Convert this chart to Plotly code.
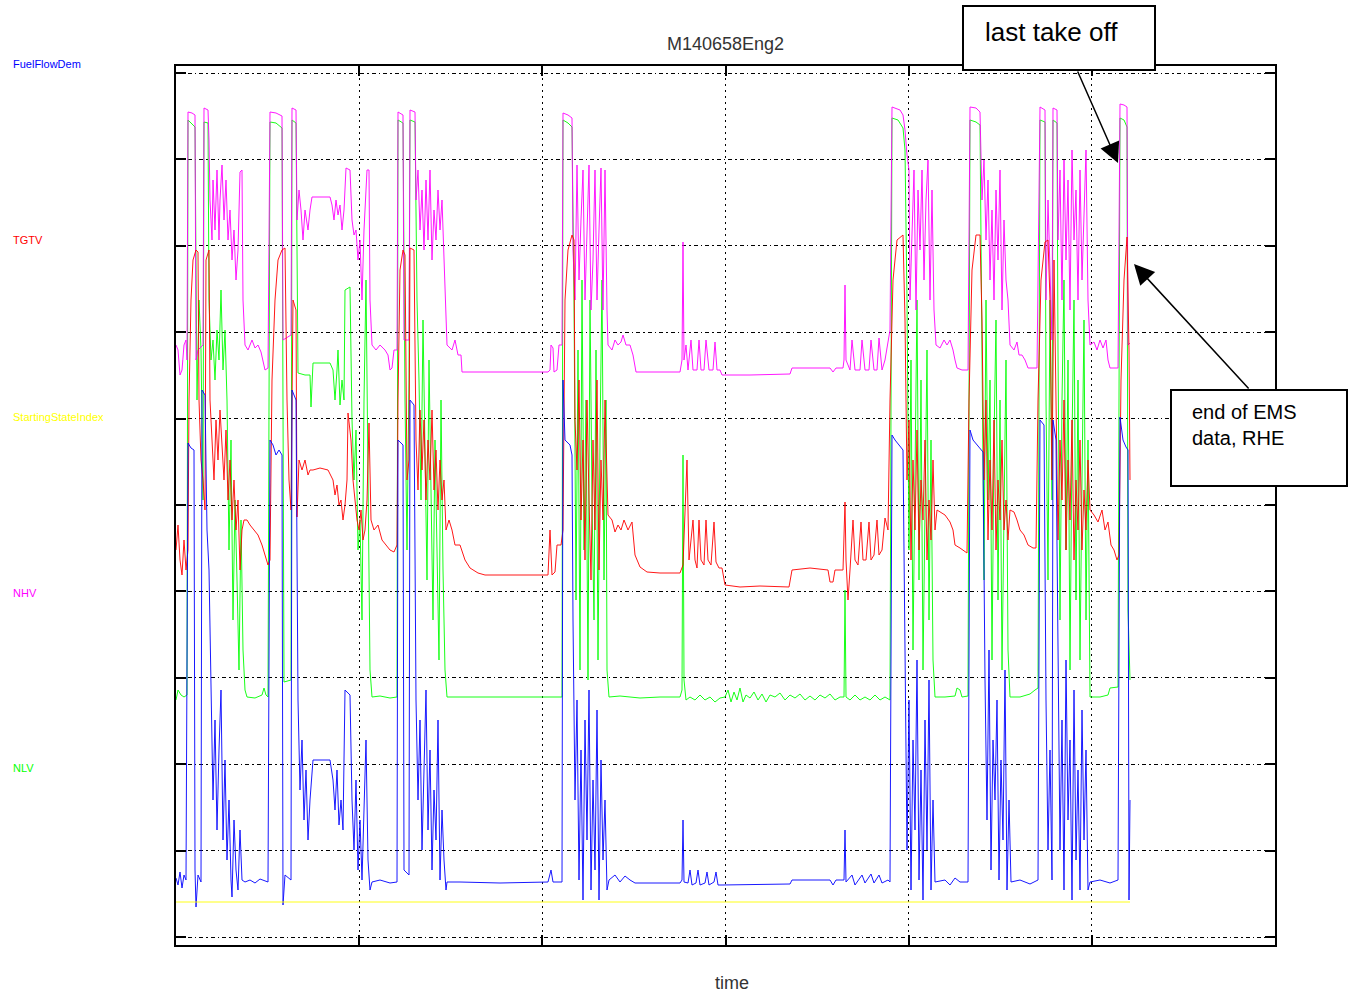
import plotly.graph_objects as go

# ---- data (time units, signal value units) ----
nhv = [(176,655),(178,650),(180,625),(182,630),(184,655),(186,660),(187,640),(188,888),(192,887),(195,885),
(196,640),(198,650),(203,655),(204,892),(208,890),(209,860),(210,800),(212,760),(213,820),(215,770),(217,830),
(219,760),(220,800),(222,835),(224,780),(226,820),(228,760),(230,790),(232,740),(234,770),(236,720),(238,750),
(240,828),(242,830),(243,700),(245,655),(248,650),(252,660),(255,652),(258,655),(261,648),(263,640),(265,630),
(268,632),(270,888),(276,887),(282,884),(283,660),(291,665),(292,892),(296,890),(297,780),(299,810),(301,790),
(303,760),(305,790),(308,770),(310,790),(312,803),(330,803),(332,795),(334,780),(336,800),(338,785),(340,795),
(342,770),(344,790),(346,832),(350,830),(352,780),(354,765),(356,770),(358,740),(360,760),(362,700),(364,770),
(367,830),(369,830),(370,700),(372,655),(376,650),(380,655),(385,650),(388,645),(390,630),(392,632),(394,650),
(397,650),(398,888),(403,885),(404,660),(409,660),(410,890),(415,888),(416,800),(418,830),(420,770),(422,810),
(424,750),(426,820),(428,760),(430,830),(432,740),(434,790),(436,760),(438,810),(440,770),(442,800),(444,740),
(446,700),(447,655),(452,650),(455,660),(458,645),(461,645),(462,628),(548,628),(550,630),(551,655),(553,652),
(554,628),(557,630),(559,655),(562,655),(563,887),(568,885),(572,882),(573,750),(575,700),(577,835),(579,720),
(581,780),(583,830),(585,700),(587,760),(589,835),(591,690),(593,740),(595,830),(597,700),(599,770),(601,832),
(603,690),(605,830),(607,690),(608,655),(612,650),(615,660),(618,655),(621,658),(623,665),(626,655),(630,655),
(633,645),(636,628),(680,628),(682,640),(683,758),(684,640),(686,655),(688,630),(691,660),(693,630),(697,630),
(699,660),(701,630),(704,630),(706,660),(709,630),(713,630),(715,658),(717,630),(720,630),(722,625),(750,625),
(790,626),(792,632),(830,632),(833,628),(836,632),(843,632),(844,640),(845,715),(846,640),(850,630),(852,660),
(855,630),(860,630),(862,660),(865,630),(869,630),(871,660),(874,630),(877,630),(879,662),(882,630),(885,640),
(888,660),(890,670),(892,893),(900,890),(903,885),(905,870),(907,845),(909,830),(910,700),(912,780),(914,830),
(916,690),(918,810),(920,750),(922,830),(924,720),(926,800),(928,840),(930,700),(932,810),(934,690),(936,655),
(940,652),(944,660),(947,655),(950,660),(953,650),(955,640),(957,632),(962,630),(968,630),(970,893),(976,892),
(980,888),(982,800),(984,840),(986,760),(988,820),(990,720),(992,790),(994,700),(996,810),(998,740),(1000,830),
(1002,690),(1004,780),(1006,720),(1008,700),(1010,655),(1014,650),(1017,658),(1019,645),(1022,645),(1025,640),
(1028,632),(1037,632),(1040,893),(1045,890),(1046,700),(1048,800),(1050,720),(1052,660),(1053,892),(1057,890),
(1058,760),(1060,830),(1062,700),(1064,840),(1066,740),(1068,820),(1070,690),(1072,850),(1074,760),(1076,810),
(1078,700),(1080,830),(1082,720),(1084,790),(1086,850),(1088,700),(1090,655),(1094,658),(1097,650),(1100,660),
(1103,652),(1106,660),(1108,640),(1110,632),(1118,632),(1120,896),(1124,895),(1127,893),(1128,655),(1130,657)]

tgtv = [(176,450),(178,475),(180,440),(182,425),(184,460),(186,430),(188,450),(189,600),(191,700),(193,740),
(196,750),(198,748),(199,600),(201,540),(203,520),(205,490),(206,740),(209,750),(210,600),(212,560),(214,520),
(216,580),(218,540),(220,590),(222,560),(224,520),(226,570),(228,500),(230,540),(232,480),(234,520),(236,470),
(238,500),(240,430),(242,470),(244,480),(247,480),(250,475),(254,470),(258,465),(262,455),(265,445),(268,435),
(270,440),(272,620),(275,700),(278,740),(282,750),(285,752),(287,600),(289,520),(291,490),(293,700),(296,690),
(297,483),(299,540),(302,530),(305,540),(308,525),(310,530),(313,530),(320,532),(328,530),(333,520),(335,505),
(337,515),(339,495),(341,500),(343,480),(345,495),(347,520),(348,587),(351,560),(353,520),(355,500),(357,480),
(359,470),(361,490),(363,460),(365,470),(367,500),(369,577),(371,480),(374,470),(378,475),(382,460),(386,455),
(390,450),(394,448),(397,455),(398,600),(400,730),(403,750),(405,745),(407,520),(409,540),(410,752),(414,750),
(416,560),(418,510),(420,590),(422,530),(424,580),(426,500),(428,560),(430,520),(432,590),(434,510),(436,550),
(438,490),(440,540),(442,500),(444,520),(446,470),(449,480),(452,470),(455,455),(460,455),(465,440),(470,432),
(478,427),(485,425),(548,425),(550,470),(552,425),(555,428),(557,455),(561,455),(563,470),(565,700),(568,750),
(572,765),(574,760),(575,580),(577,530),(579,620),(581,480),(583,560),(585,440),(587,600),(589,500),(591,420),
(593,560),(595,470),(597,620),(599,430),(601,540),(603,480),(605,600),(607,500),(608,485),(612,480),(615,468),
(618,475),(621,470),(624,480),(628,470),(632,478),(635,445),(640,433),(647,428),(660,427),(680,427),(683,435),
(685,480),(687,540),(689,440),(691,460),(693,480),(695,440),(697,432),(699,480),(701,440),(704,435),(706,480),
(708,440),(711,435),(714,478),(716,438),(719,432),(722,432),(725,415),(740,413),(760,414),(789,413),(792,430),
(810,432),(828,430),(830,418),(833,418),(835,430),(843,430),(845,498),(846,440),(848,400),(850,430),(853,480),
(855,440),(858,435),(861,478),(863,440),(866,440),(869,478),(871,440),(874,445),(877,480),(879,445),(882,450),
(885,482),(888,470),(890,600),(893,720),(897,760),(903,765),(905,680),(907,520),(909,580),(911,440),(913,540),
(915,470),(917,570),(919,450),(921,520),(923,480),(925,560),(927,440),(929,500),(931,460),(933,540),(935,470),
(937,490),(945,485),(950,478),(953,470),(955,455),(960,452),(963,450),(967,447),(969,600),(972,730),(976,765),
(980,765),(982,680),(984,520),(986,600),(988,460),(990,540),(992,470),(994,580),(996,450),(998,520),(1000,480),
(1002,560),(1004,470),(1006,500),(1008,460),(1010,490),(1014,488),(1017,480),(1020,470),(1024,465),(1028,455),
(1033,452),(1036,452),(1038,600),(1041,720),(1045,758),(1048,760),(1050,700),(1052,520),(1054,740),(1056,600),
(1058,460),(1060,560),(1062,500),(1064,600),(1066,450),(1068,540),(1070,480),(1072,580),(1074,440),(1076,520),
(1078,470),(1080,560),(1082,450),(1084,510),(1086,470),(1088,540),(1090,490),(1094,485),(1098,478),(1102,490),
(1105,470),(1108,478),(1111,455),(1114,450),(1117,440),(1119,445),(1121,620),(1124,720),(1127,763),(1129,650),
(1130,520)]

nlv = [(176,300),(178,310),(181,305),(184,303),(187,305),(188,880),(192,876),(195,873),(197,600),(199,700),
(201,650),(203,500),(204,878),(208,877),(209,700),(211,640),(213,660),(215,620),(217,670),(219,640),(221,710),
(223,630),(225,670),(227,600),(229,450),(231,560),(233,380),(235,500),(237,420),(239,330),(241,480),(243,350),
(245,310),(247,303),(255,302),(262,305),(264,312),(266,305),(268,303),(270,878),(276,877),(282,872),(284,318),
(291,320),(292,880),(296,877),(298,627),(305,625),(310,625),(311,593),(313,637),(330,637),(333,630),(335,600),
(337,630),(338,650),(340,595),(342,620),(344,600),(345,710),(350,713),(352,580),(354,520),(356,570),(358,450),
(360,480),(362,380),(364,600),(366,720),(368,500),(370,330),(372,303),(380,304),(390,302),(397,303),(398,880),
(403,877),(405,600),(407,450),(409,620),(410,880),(415,878),(417,700),(419,620),(421,500),(423,680),(425,560),
(427,420),(429,640),(431,520),(433,380),(435,560),(437,460),(439,340),(441,600),(443,430),(445,330),(447,303),
(500,303),(562,303),(563,880),(568,877),(572,873),(574,700),(576,400),(578,650),(580,330),(582,720),(584,450),
(586,600),(588,320),(590,700),(592,500),(594,380),(596,650),(598,340),(600,560),(602,720),(604,420),(606,600),
(607,330),(609,303),(620,304),(640,302),(660,303),(680,303),(682,310),(683,545),(684,320),(686,300),(690,303),
(695,300),(700,305),(705,300),(710,303),(715,298),(720,302),(725,303),(728,310),(731,298),(734,308),(737,300),
(740,312),(743,298),(746,305),(750,302),(754,308),(758,300),(762,306),(766,298),(770,305),(775,303),(780,307),
(785,300),(790,305),(795,302),(800,306),(805,300),(810,304),(815,300),(820,305),(825,302),(830,306),(835,300),
(840,303),(844,303),(845,410),(846,303),(850,300),(855,305),(860,300),(865,303),(870,300),(875,305),(880,300),
(885,303),(890,300),(892,882),(898,880),(903,872),(905,850),(907,700),(909,450),(911,640),(913,350),(915,560),
(917,700),(919,420),(921,620),(923,330),(925,520),(927,650),(929,380),(931,560),(933,340),(935,303),(945,303),
(955,304),(957,312),(960,310),(962,303),(968,304),(970,880),(976,878),(980,875),(982,640),(984,420),(986,700),
(988,500),(990,620),(992,340),(994,560),(996,680),(998,400),(1000,600),(1002,330),(1004,500),(1006,640),
(1008,350),(1010,303),(1020,303),(1030,306),(1035,310),(1038,312),(1040,880),(1045,878),(1046,600),(1048,420),
(1050,700),(1052,500),(1053,880),(1057,877),(1058,650),(1060,380),(1062,600),(1064,720),(1066,450),(1068,640),
(1070,330),(1072,560),(1074,700),(1076,400),(1078,620),(1080,340),(1082,520),(1084,680),(1086,380),(1088,560),
(1090,303),(1100,303),(1108,305),(1110,312),(1118,313),(1120,882),(1124,880),(1127,873),(1128,390),(1130,320)]

fuel = [(176,122),(178,115),(180,128),(182,112),(184,125),(186,120),(188,557),(191,552),(194,550),(195,130),
(196,93),(198,125),(201,118),(202,610),(205,605),(207,470),(209,430),(211,300),(213,200),(215,280),(217,170),
(219,250),(221,310),(223,160),(225,240),(227,140),(229,200),(231,120),(232,103),(234,180),(236,130),(238,110),
(240,170),(242,120),(245,118),(250,120),(255,117),(260,121),(265,119),(268,118),(270,560),(273,555),(276,545),
(279,550),(282,545),(283,95),(285,125),(288,122),(291,120),(292,610),(296,600),(298,300),(300,210),(302,260),
(304,180),(306,230),(308,160),(310,200),(313,240),(330,240),(333,220),(335,190),(337,230),(339,175),(341,200),
(343,170),(345,310),(350,305),(352,200),(354,150),(356,220),(358,130),(360,180),(362,120),(364,200),(366,260),
(368,140),(370,110),(372,118),(380,120),(390,117),(397,118),(398,560),(403,555),(404,130),(409,125),(410,600),
(414,595),(416,300),(418,200),(420,280),(422,150),(424,230),(426,310),(428,170),(430,250),(432,130),(434,210),
(436,160),(438,280),(440,120),(442,190),(444,140),(446,110),(447,118),(460,118),(500,117),(548,118),(551,130),
(553,118),(562,118),(563,620),(565,560),(570,555),(572,545),(573,380),(575,200),(577,300),(579,120),(581,250),
(583,100),(585,280),(587,160),(589,310),(591,110),(593,220),(595,130),(597,290),(599,100),(601,240),(603,140),
(605,200),(607,110),(609,120),(615,125),(620,118),(625,124),(630,120),(635,117),(680,117),(682,120),(683,180),
(684,118),(688,117),(690,130),(692,115),(696,117),(698,130),(700,115),(705,117),(707,128),(709,115),(714,118),
(716,128),(718,115),(722,115),(790,116),(792,120),(830,120),(833,115),(836,120),(844,120),(845,170),(846,118),
(852,125),(855,115),(862,125),(865,117),(871,126),(874,117),(879,125),(882,117),(888,120),(890,118),(892,565),
(895,560),(899,555),(903,550),(905,350),(907,150),(909,300),(911,110),(913,260),(915,170),(917,340),(919,120),
(921,230),(923,100),(925,280),(927,150),(929,320),(931,110),(933,200),(935,118),(945,120),(950,115),(955,122),
(960,118),(968,118),(970,570),(973,560),(977,555),(980,552),(983,548),(985,320),(987,180),(989,350),(991,130),
(993,260),(995,200),(997,300),(999,120),(1001,240),(1003,160),(1005,330),(1007,110),(1009,200),(1011,118),
(1020,120),(1030,116),(1038,120),(1040,580),(1044,575),(1046,300),(1048,150),(1050,250),(1052,120),(1053,580),
(1056,560),(1058,320),(1060,150),(1062,280),(1064,110),(1066,340),(1068,180),(1070,260),(1072,100),(1074,310),
(1076,140),(1078,230),(1080,110),(1082,290),(1084,160),(1086,250),(1088,110),(1090,118),(1100,120),(1110,117),
(1118,120),(1120,583),(1123,560),(1126,553),(1128,550),(1129,100),(1130,200)]

starting_state = [(176,98),(1130,98)]

series_names = ["FuelFlowDem", "TGTV", "StartingStateIndex", "NHV", "NLV"]
series_colors = ["#0000FF", "#FF0000", "#FFFF00", "#FF00FF", "#00FF00"]

W, H = 1360, 999
def px(x): return x / W
def py(y): return 1 - y / H

fig = go.Figure()
draw = [("NLV", nlv, "#00FF00"), ("NHV", nhv, "#FF00FF"), ("TGTV", tgtv, "#FF0000"),
        ("FuelFlowDem", fuel, "#0000FF"), ("StartingStateIndex", starting_state, "#FFFF00")]
for name, pts, col in draw:
    fig.add_trace(go.Scatter(x=[p[0] for p in pts], y=[p[1] for p in pts], mode="lines",
                             name=name, line=dict(color=col, width=1), opacity=0.9,
                             showlegend=False, hoverinfo="skip"))

xt = [176 + k * (1275 - 176) / 6 for k in range(7)]
yt = [63 + k * 86.4 for k in range(11)]

axis_common = dict(showline=True, linecolor="black", linewidth=1.5, mirror="ticks",
                   ticks="inside", ticklen=10, tickwidth=1.5, tickcolor="black",
                   showticklabels=False, showgrid=True, gridcolor="black", gridwidth=1.2,
                   zeroline=False)

fig.update_layout(
    width=W, height=H, margin=dict(l=0, r=0, t=0, b=0),
    paper_bgcolor="white", plot_bgcolor="white",
    font=dict(family="Liberation Sans, Arial, sans-serif"),
    xaxis=dict(range=[176, 1275], domain=[px(176), px(1275)], tickvals=xt,
               griddash="2px,4px", **axis_common),
    yaxis=dict(range=[55, 934], domain=[py(945), py(66)], tickvals=yt,
               griddash="4px,3px,1.5px,3px", **axis_common),
)

ann = []
ann.append(dict(text="M140658Eng2", x=px(725), y=py(44), xref="paper", yref="paper",
                showarrow=False, font=dict(size=18, color="#333333"), xanchor="center", yanchor="middle"))
ann.append(dict(text="time", x=px(732), y=py(983), xref="paper", yref="paper",
                showarrow=False, font=dict(size=18, color="#333333"), xanchor="center", yanchor="middle"))
label_y = [64, 240, 417, 593, 768]
for name, col, ly in zip(series_names, series_colors, label_y):
    ann.append(dict(text=name, x=px(11), y=py(ly), xref="paper", yref="paper", showarrow=False,
                    font=dict(size=11, color=col), xanchor="left", yanchor="middle"))
ann.append(dict(text="last take off", x=px(983), y=py(32), xref="paper", yref="paper", showarrow=False,
                font=dict(size=26, color="black"), xanchor="left", yanchor="middle"))
ann.append(dict(text="end of EMS<br>data, RHE", x=px(1190), y=py(425), xref="paper", yref="paper",
                showarrow=False, align="left", font=dict(size=20, color="black"),
                xanchor="left", yanchor="middle"))
ann.append(dict(text="", x=px(1118), y=py(163), xref="paper", yref="paper", showarrow=True,
                ax=1077 - 1118, ay=70 - 163, arrowhead=2, arrowsize=2.7, arrowwidth=1.5, arrowcolor="black"))
ann.append(dict(text="", x=px(1134), y=py(264), xref="paper", yref="paper", showarrow=True,
                ax=1250 - 1134, ay=390 - 264, arrowhead=2, arrowsize=2.7, arrowwidth=1.5, arrowcolor="black"))
fig.update_layout(annotations=ann)

fig.add_shape(type="rect", xref="paper", yref="paper", x0=px(963), x1=px(1155), y0=py(70), y1=py(6),
              line=dict(color="black", width=2), fillcolor="white", layer="above")
fig.add_shape(type="rect", xref="paper", yref="paper", x0=px(1171), x1=px(1347), y0=py(486), y1=py(390),
              line=dict(color="black", width=2), fillcolor="white", layer="above")

fig.write_html("out.html")
